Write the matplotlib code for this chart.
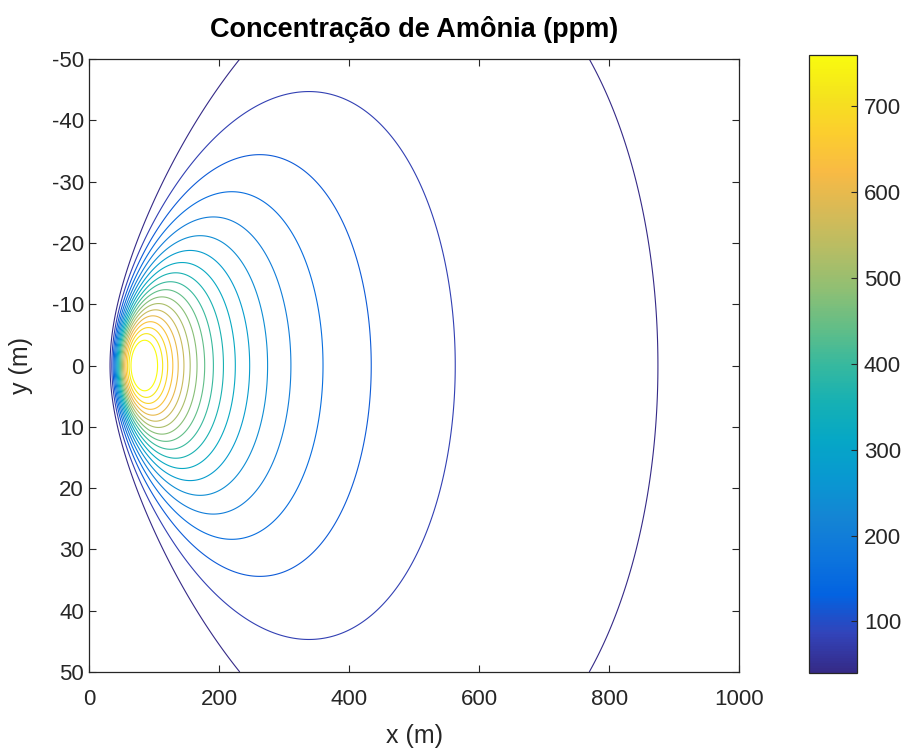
"""Ground-level ammonia plume, contour map in the style of a MATLAB figure.

Writes out.png (905x751 px).
"""
import matplotlib
matplotlib.use("Agg")
import matplotlib.pyplot as plt
import numpy as np
from matplotlib.colors import LinearSegmentedColormap, Normalize
from matplotlib.cm import ScalarMappable

plt.rcParams.update({
    "font.family": ["Liberation Sans", "DejaVu Sans"],
    "axes.unicode_minus": False,
    "axes.edgecolor": "#262626", "xtick.color": "#262626", "ytick.color": "#262626",
    "axes.labelcolor": "#262626",
})

# plume parameters read back from the contour positions
PLUME_K = 1.915e6       # centreline scale (ppm * m^s)
PLUME_DECAY = 1.59      # far-field decay exponent of the centreline
ONSET_X = 70.4          # near-source onset length (m)
ONSET_POW = 2.1         # sharpness of the near-source rise
SIGMA_Y_A = 0.133       # sigma_y = a * x**b
SIGMA_Y_B = 0.96

# domain and contour levels
X_RANGE = [0, 1000]
Y_RANGE = [-50, 50]
LEVELS = [40, 80, 120, 160, 200, 240, 280, 320, 360, 400,
          440, 480, 520, 560, 600, 640, 680, 720, 760]
X_TICKS = [0, 200, 400, 600, 800, 1000]
Y_TICKS = [-50, -40, -30, -20, -10, 0, 10, 20, 30, 40, 50]
CBAR_TICKS = [100, 200, 300, 400, 500, 600, 700]

# parula, sampled every 4th entry
PARULA = [
    (0.2081, 0.1663, 0.5292), (0.1959, 0.2645, 0.7279), (0.0117, 0.3875, 0.8820),
    (0.0498, 0.4586, 0.8641), (0.0793, 0.5200, 0.8312), (0.0343, 0.5966, 0.8199),
    (0.0228, 0.6535, 0.7768), (0.0843, 0.6928, 0.7062), (0.2178, 0.7250, 0.6193),
    (0.3953, 0.7459, 0.5244), (0.5709, 0.7485, 0.4494), (0.7184, 0.7411, 0.3905),
    (0.8507, 0.7299, 0.3360), (0.9739, 0.7314, 0.2666), (0.9880, 0.8066, 0.1794),
    (0.9589, 0.8949, 0.1132), (0.9763, 0.9831, 0.0538),
]
cmap = LinearSegmentedColormap.from_list("parula", PARULA, N=256)

x = np.linspace(1, X_RANGE[1], 2000)
y = np.linspace(Y_RANGE[0], Y_RANGE[1], 801)
X, Y = np.meshgrid(x, y)
c0 = PLUME_K * X ** -PLUME_DECAY * np.exp(-(ONSET_X / X) ** ONSET_POW)
sig_y = SIGMA_Y_A * X ** SIGMA_Y_B
C = c0 * np.exp(-Y ** 2 / (2 * sig_y ** 2))

fig = plt.figure(figsize=(9.05, 7.51), dpi=100)
ax = fig.add_axes([0.0987, 0.1052, 0.7179, 0.8162])
norm = Normalize(LEVELS[0], LEVELS[-1])
ax.contour(X, Y, C, levels=LEVELS, cmap=cmap, norm=norm, linewidths=0.8)

ax.set_xlim(X_RANGE)
ax.set_ylim(Y_RANGE[1], Y_RANGE[0])
ax.set_xticks(X_TICKS)
ax.set_yticks(Y_TICKS)
ax.tick_params(direction="in", length=5, width=0.8, labelsize=16,
               top=True, right=True)
ax.tick_params(axis="x", pad=12)
ax.tick_params(axis="y", pad=4)
for sp in ax.spines.values():
    sp.set_linewidth(0.9)
ax.set_xlabel("x (m)", fontsize=18, labelpad=10)
ax.set_ylabel("y (m)", fontsize=18, labelpad=13)
ax.set_title("Concentração de Amônia (ppm)", fontsize=19.5, fontweight="bold",
             color="black", pad=16)

cax = fig.add_axes([0.8939, 0.1039, 0.0530, 0.8229])
cb = fig.colorbar(ScalarMappable(norm=norm, cmap=cmap), cax=cax)
cb.set_ticks(CBAR_TICKS)
cb.outline.set_linewidth(0.9)
cb.outline.set_edgecolor("#262626")
cax.tick_params(direction="in", length=4, width=0.8, labelsize=16, pad=5)

fig.savefig("out.png", dpi=100)
